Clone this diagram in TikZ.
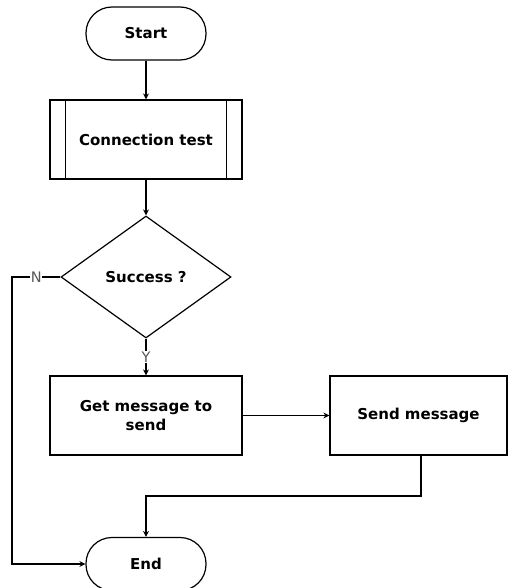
\documentclass[tikz,border=0pt]{standalone}
\usepackage{fontspec}
\setmainfont{DejaVu Sans}
\usetikzlibrary{shapes.geometric,arrows.meta}

\tikzset{
  boxfont/.style={font=\bfseries\fontsize{15}{19}\selectfont},
  terminal/.style={draw, boxfont, rounded corners=26pt, minimum width=120pt, minimum height=53pt},
  process/.style={draw, boxfont, align=center, minimum height=79pt},
  decision/.style={draw, boxfont, diamond, inner sep=0pt, minimum width=170pt, minimum height=122pt},
  flow/.style={-{Stealth[length=6pt,width=6pt]}},
  answer/.style={fill=white, inner sep=0.5pt, text=black!65, font=\fontsize{14.5}{16}\selectfont}
}

\begin{document}
\begin{tikzpicture}[x=1pt, y=-1pt, line width=1.2pt]
\useasboundingbox (0,0) rectangle (508,588);
\clip (0,0) rectangle (508,588);

\node[terminal] (start) at (146,33.5) {Start};
\node[process, minimum width=192pt] (test) at (146,139.5) {Connection test};
\draw ([xshift=16pt]test.north west) -- ([xshift=16pt]test.south west);
\draw ([xshift=-16pt]test.north east) -- ([xshift=-16pt]test.south east);
\node[decision] (ok) at (146,277) {Success ?};
\node[process, minimum width=192pt] (get) at (146,415.5) {Get message to\\send};
\node[process, minimum width=177pt] (send) at (418.5,415.5) {Send message};
\node[terminal] (stop) at (146,564) {End};

\coordinate (nl) at (12,277);
\coordinate (nb) at (12,564);
\coordinate (sd) at (421,455);
\coordinate (sm) at (421,496);
\coordinate (em) at (146,496);

\draw[flow] (start) -- (test);
\draw[flow] (test) -- (ok);
\draw[flow] (ok.south) -- node[answer] {Y} (get.north);
\draw[flow] (get) -- (send);
\draw[flow] (ok.west) -- node[answer, pos=0.5] {N} (nl) -- (nb) -- (stop.west);
\draw[flow] (sd) -- (sm) -- (em) -- (stop.north);
\end{tikzpicture}
\end{document}
